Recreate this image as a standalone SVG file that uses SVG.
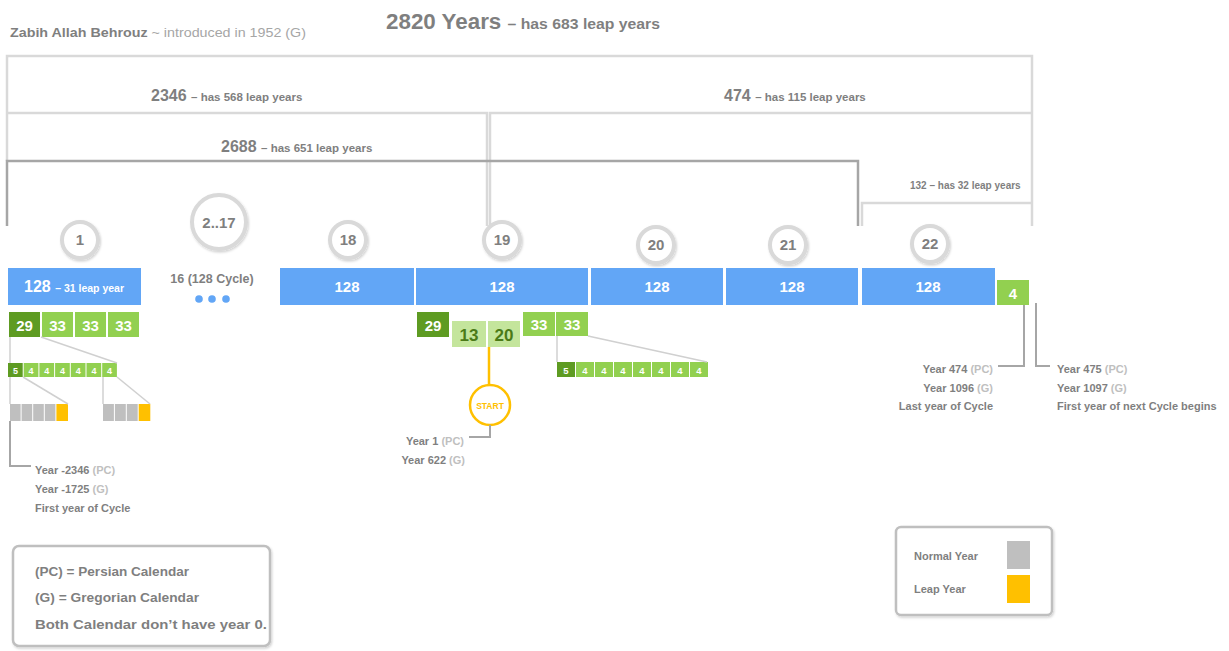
<svg xmlns="http://www.w3.org/2000/svg" width="1229" height="651" viewBox="0 0 1229 651">
<defs>
<style>
text{font-family:"Liberation Sans",Arial,sans-serif;font-weight:bold;fill:#7f7f7f}
.lt{fill:#bfbfbf}
.lt2{fill:#a6a6a6}
.w{fill:#fff;text-anchor:middle}
.wl{fill:#fff}
.dgt{fill:#4b7a17;text-anchor:middle}
.or{fill:#ffc000;text-anchor:middle}
.br{stroke:#d9d9d9;stroke-width:2.5;fill:none}
.brd{stroke:#a6a6a6;stroke-width:2.5;fill:none}
.ring{fill:#fff;stroke:#d9d9d9;stroke-width:4}
.num{text-anchor:middle;font-size:15px;fill:#7f7f7f}
.blue{fill:#62a6f6}
.g{fill:#92d050}
.dg{fill:#5e9b22}
.lg{fill:#c4e59c}
.gy{fill:#bfbfbf}
.ye{fill:#ffc000}
.ln{stroke:#d0d0d0;stroke-width:1.5;fill:none}
.lnd{stroke:#a6a6a6;stroke-width:2;fill:none}
.ann{font-size:11px}
.leg{fill:#fff;stroke:#bfbfbf;stroke-width:2.5}
</style>
<filter id="sh" x="-20%" y="-20%" width="140%" height="140%">
<feDropShadow dx="1" dy="1.5" stdDeviation="1.2" flood-color="#000" flood-opacity="0.18"/>
</filter>
</defs>
<rect width="1229" height="651" fill="#fff"/>

<g id="header">
<text x="10" y="37" font-size="12" textLength="296" lengthAdjust="spacingAndGlyphs">Zabih Allah Behrouz <tspan class="lt2" font-weight="normal">~ introduced in 1952 (G)</tspan></text>
<text x="386" y="29" font-size="22" textLength="274" lengthAdjust="spacingAndGlyphs">2820 Years <tspan font-size="15.5">– has 683 leap years</tspan></text>
</g>

<g id="brackets">
<polyline class="br" points="7,161 7,56 1032,56 1032,226"/>
<polyline class="br" points="7,113 487,113 487,226"/>
<polyline class="br" points="490,226 490,113 1032,113"/>
<polyline class="brd" points="7,226 7,161 858,161 858,226"/>
<polyline class="br" points="862,226 862,203 1032,203"/>
<text x="151" y="101" font-size="16">2346 <tspan font-size="11.5">– has 568 leap years</tspan></text>
<text x="724" y="101" font-size="16">474 <tspan font-size="11.5">– has 115 leap years</tspan></text>
<text x="221" y="152" font-size="16">2688 <tspan font-size="11.5">– has 651 leap years</tspan></text>
<text x="910" y="189" font-size="10" font-weight="normal">132 – has 32 leap years</text>
</g>

<g id="node-1">
<circle class="ring" cx="80" cy="240" r="18" filter="url(#sh)"/>
<text class="num" x="80" y="245">1</text>
<rect class="blue" x="8" y="268" width="133" height="37"/>
<text class="wl" x="24" y="292" font-size="16">128 <tspan font-size="10.5">– 31 leap year</tspan></text>
</g>

<g id="node-2-17">
<circle class="ring" cx="219" cy="222" r="27" filter="url(#sh)"/>
<text class="num" x="219" y="228" font-size="17">2..17</text>
<text x="212" y="283" font-size="12.5" text-anchor="middle">16 (128 Cycle)</text>
<circle class="blue" cx="199" cy="299" r="3.8"/>
<circle class="blue" cx="212" cy="299" r="3.8"/>
<circle class="blue" cx="226" cy="299" r="3.8"/>
</g>

<g id="node-18">
<circle class="ring" cx="348" cy="240" r="18" filter="url(#sh)"/>
<text class="num" x="348" y="245">18</text>
<rect class="blue" x="280" y="268" width="134" height="37"/>
<text class="w" x="347" y="292" font-size="15">128</text>
</g>

<g id="node-19">
<circle class="ring" cx="502" cy="240" r="18" filter="url(#sh)"/>
<text class="num" x="502" y="245">19</text>
<rect class="blue" x="416" y="268" width="172" height="37"/>
<text class="w" x="502" y="292" font-size="15">128</text>
</g>

<g id="node-20">
<circle class="ring" cx="656" cy="245" r="18" filter="url(#sh)"/>
<text class="num" x="656" y="250">20</text>
<rect class="blue" x="591" y="268" width="132" height="37"/>
<text class="w" x="657" y="292" font-size="15">128</text>
</g>

<g id="node-21">
<circle class="ring" cx="788" cy="245" r="18" filter="url(#sh)"/>
<text class="num" x="788" y="250">21</text>
<rect class="blue" x="726" y="268" width="132" height="37"/>
<text class="w" x="792" y="292" font-size="15">128</text>
</g>

<g id="node-22">
<circle class="ring" cx="930" cy="244" r="18" filter="url(#sh)"/>
<text class="num" x="930" y="249">22</text>
<rect class="blue" x="862" y="268" width="133" height="37"/>
<text class="w" x="928" y="292" font-size="15">128</text>
<rect class="g" x="997" y="280" width="32" height="25"/>
<text class="w" x="1013" y="299" font-size="15">4</text>
</g>

<g id="cycle-1-detail">
<rect class="dg" x="9" y="312" width="31" height="25"/>
<rect class="g" x="42" y="312" width="31" height="25"/>
<rect class="g" x="75" y="312" width="31" height="25"/>
<rect class="g" x="108" y="312" width="31" height="25"/>
<text class="w" x="24.5" y="331" font-size="15">29</text>
<text class="w" x="57.5" y="331" font-size="15">33</text>
<text class="w" x="90.5" y="331" font-size="15">33</text>
<text class="w" x="123.5" y="331" font-size="15">33</text>
<rect class="dg" x="8" y="363" width="14.7" height="14"/>
<rect class="g" x="23.7" y="363" width="14.7" height="14"/>
<rect class="g" x="39.4" y="363" width="14.7" height="14"/>
<rect class="g" x="55.1" y="363" width="14.7" height="14"/>
<rect class="g" x="70.8" y="363" width="14.7" height="14"/>
<rect class="g" x="86.5" y="363" width="14.7" height="14"/>
<rect class="g" x="102.2" y="363" width="14.7" height="14"/>
<g font-size="9">
<text class="w" x="15.4" y="373.5">5</text>
<text class="w" x="31" y="373.5">4</text>
<text class="w" x="46.8" y="373.5">4</text>
<text class="w" x="62.5" y="373.5">4</text>
<text class="w" x="78.2" y="373.5">4</text>
<text class="w" x="93.9" y="373.5">4</text>
<text class="w" x="109.6" y="373.5">4</text>
</g>
<rect class="gy" x="10" y="404" width="10.6" height="17"/>
<rect class="gy" x="21.6" y="404" width="10.6" height="17"/>
<rect class="gy" x="33.2" y="404" width="10.6" height="17"/>
<rect class="gy" x="44.8" y="404" width="10.6" height="17"/>
<rect class="ye" x="56.4" y="404" width="11.6" height="17"/>
<rect class="gy" x="103" y="404" width="10.9" height="17"/>
<rect class="gy" x="114.9" y="404" width="10.9" height="17"/>
<rect class="gy" x="126.8" y="404" width="10.9" height="17"/>
<rect class="ye" x="138.7" y="404" width="11.6" height="17"/>
<text class="ann" x="35" y="474">Year -2346 <tspan class="lt">(PC)</tspan></text>
<text class="ann" x="35" y="493">Year -1725 <tspan class="lt">(G)</tspan></text>
<text class="ann" x="35" y="512">First year of Cycle</text>
</g>

<g id="cycle-19-detail">
<rect class="dg" x="417" y="312" width="32" height="25"/>
<text class="w" x="433" y="331" font-size="15">29</text>
<rect class="lg" x="452" y="321" width="34" height="26"/>
<text class="dgt" x="469" y="341" font-size="17">13</text>
<rect class="lg" x="488" y="321" width="32" height="26"/>
<text class="dgt" x="504" y="341" font-size="17">20</text>
<rect class="g" x="523" y="312" width="32" height="24"/>
<rect class="g" x="556" y="312" width="32" height="24"/>
<text class="w" x="539" y="330" font-size="15">33</text>
<text class="w" x="572" y="330" font-size="15">33</text>
<rect class="dg" x="557" y="362" width="18" height="15"/>
<rect class="g" x="576" y="362" width="18" height="15"/>
<rect class="g" x="595" y="362" width="18" height="15"/>
<rect class="g" x="614" y="362" width="18" height="15"/>
<rect class="g" x="633" y="362" width="18" height="15"/>
<rect class="g" x="652" y="362" width="18" height="15"/>
<rect class="g" x="671" y="362" width="18" height="15"/>
<rect class="g" x="690" y="362" width="18" height="15"/>
<g font-size="9.5">
<text class="w" x="566" y="373.5">5</text>
<text class="w" x="585" y="373.5">4</text>
<text class="w" x="604" y="373.5">4</text>
<text class="w" x="623" y="373.5">4</text>
<text class="w" x="642" y="373.5">4</text>
<text class="w" x="661" y="373.5">4</text>
<text class="w" x="680" y="373.5">4</text>
<text class="w" x="699" y="373.5">4</text>
</g>
</g>

<g id="start">
<circle cx="490" cy="405" r="20" fill="#fff" stroke="#ffc000" stroke-width="2.5"/>
<text class="or" x="490" y="409" font-size="8.5">START</text>
<text class="ann" x="464" y="445" text-anchor="end">Year 1 <tspan class="lt">(PC)</tspan></text>
<text class="ann" x="465" y="464" text-anchor="end">Year 622 <tspan class="lt">(G)</tspan></text>
</g>

<g id="end-notes">
<text class="ann" x="993" y="373" text-anchor="end">Year 474 <tspan class="lt">(PC)</tspan></text>
<text class="ann" x="993" y="392" text-anchor="end">Year 1096 <tspan class="lt">(G)</tspan></text>
<text class="ann" x="993" y="410" text-anchor="end">Last year of Cycle</text>
<text class="ann" x="1057" y="373">Year 475 <tspan class="lt">(PC)</tspan></text>
<text class="ann" x="1057" y="392">Year 1097 <tspan class="lt">(G)</tspan></text>
<text class="ann" x="1057" y="410">First year of next Cycle begins</text>
</g>

<g id="connectors">
<line class="ln" x1="10" y1="337" x2="10" y2="363"/>
<line class="ln" x1="41" y1="337" x2="117" y2="363"/>
<line class="ln" x1="10" y1="377" x2="10" y2="404"/>
<line class="ln" x1="23" y1="377" x2="68" y2="404"/>
<line class="ln" x1="103" y1="377" x2="103" y2="404"/>
<line class="ln" x1="117" y1="377" x2="150" y2="404"/>
<polyline class="lnd" points="10,421 10,466 31,466"/>
<line class="ln" x1="557" y1="336" x2="557" y2="362"/>
<line class="ln" x1="588" y1="336" x2="707" y2="362"/>
<line x1="489" y1="347" x2="489" y2="385" stroke="#ffc000" stroke-width="2.5"/>
<polyline class="lnd" points="490,425 490,437 469,437"/>
<polyline class="lnd" points="1024,305 1024,366 998,366"/>
<polyline class="lnd" points="1036,303 1036,366 1050,366"/>
</g>

<g id="legend-calendars">
<rect class="leg" x="13" y="546" width="257" height="100" rx="6" filter="url(#sh)"/>
<text x="35" y="576" font-size="13.5" textLength="154" lengthAdjust="spacingAndGlyphs">(PC) = Persian Calendar</text>
<text x="35" y="602" font-size="13.5" textLength="164" lengthAdjust="spacingAndGlyphs">(G) = Gregorian Calendar</text>
<text x="35" y="629" font-size="13.5" textLength="232" lengthAdjust="spacingAndGlyphs">Both Calendar don’t have year 0.</text>
</g>

<g id="legend-years">
<rect class="leg" x="896" y="527" width="156" height="88" rx="5" filter="url(#sh)"/>
<text x="914" y="560" font-size="11">Normal Year</text>
<rect class="gy" x="1007" y="541" width="23" height="28"/>
<text x="914" y="593" font-size="11">Leap Year</text>
<rect class="ye" x="1007" y="575" width="23" height="28"/>
</g>
</svg>
